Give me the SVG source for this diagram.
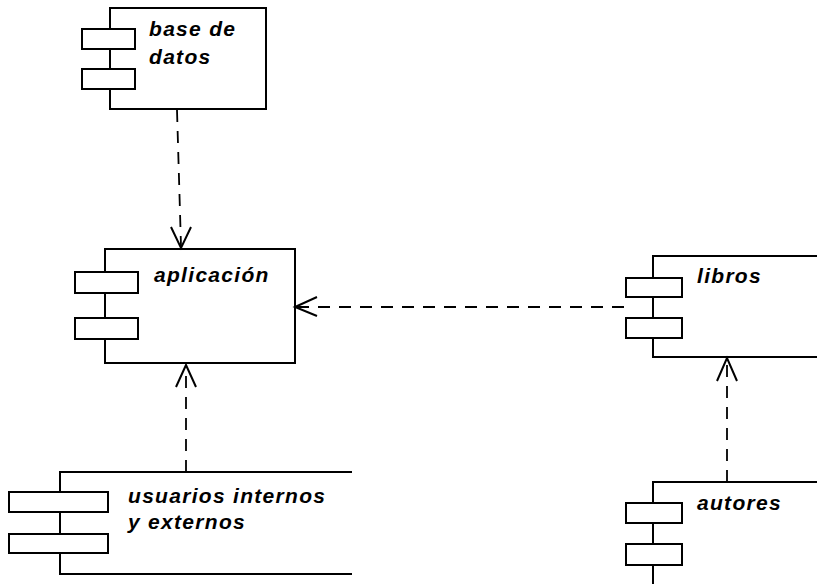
<svg xmlns="http://www.w3.org/2000/svg" width="817" height="584" viewBox="0 0 817 584">
<style>
.box{fill:none;stroke:#000;stroke-width:2}
.port{fill:#fff;stroke:#000;stroke-width:2}
.lbl{font-family:"Liberation Sans",Arial,sans-serif;font-weight:bold;font-style:italic;font-size:21px;letter-spacing:1.3px;fill:#000}
.dep{fill:none;stroke:#000;stroke-width:1.8;stroke-dasharray:12 9}
.head{fill:none;stroke:#000;stroke-width:2}
</style>
<rect width="817" height="584" fill="#fff"/>
<g id="connectors">
<path class="dep" d="M177 110 L181 246"/>
<path class="head" d="M171 227 L181 248 L191 227"/>
<path class="dep" d="M624 307 L297 307"/>
<path class="head" d="M317 297 L295 307 L317 316"/>
<path class="dep" d="M186 472 L186 367"/>
<path class="head" d="M176 387 L186 365 L196 387"/>
<path class="dep" d="M727 482 L727 360"/>
<path class="head" d="M717 381 L727 358 L737 381"/>
</g>
<g id="base_de_datos">
<rect class="box" x="110" y="8" width="156" height="101"/>
<rect class="port" x="82" y="29" width="53" height="20"/>
<rect class="port" x="82" y="69" width="53" height="20"/>
<text class="lbl" x="149" y="36">base de</text>
<text class="lbl" x="149" y="64">datos</text>
</g>
<g id="aplicacion">
<rect class="box" x="105" y="249" width="190" height="114"/>
<rect class="port" x="75" y="272" width="63" height="21"/>
<rect class="port" x="75" y="318" width="63" height="21"/>
<text class="lbl" x="154" y="282">aplicación</text>
</g>
<g id="usuarios">
<path class="box" d="M352 472 L60 472 L60 574 L352 574"/>
<rect class="port" x="9" y="492" width="99" height="20"/>
<rect class="port" x="9" y="534" width="99" height="19"/>
<text class="lbl" x="128" y="503">usuarios internos</text>
<text class="lbl" x="128" y="529">y externos</text>
</g>
<g id="libros">
<path class="box" d="M820 256 L653 256 L653 357 L820 357"/>
<rect class="port" x="626" y="278" width="56" height="19"/>
<rect class="port" x="626" y="318" width="56" height="20"/>
<text class="lbl" x="697" y="283">libros</text>
</g>
<g id="autores">
<path class="box" d="M820 482 L653 482 L653 590"/>
<rect class="port" x="626" y="503" width="56" height="20"/>
<rect class="port" x="626" y="544" width="56" height="21"/>
<text class="lbl" x="697" y="510">autores</text>
</g>
</svg>
